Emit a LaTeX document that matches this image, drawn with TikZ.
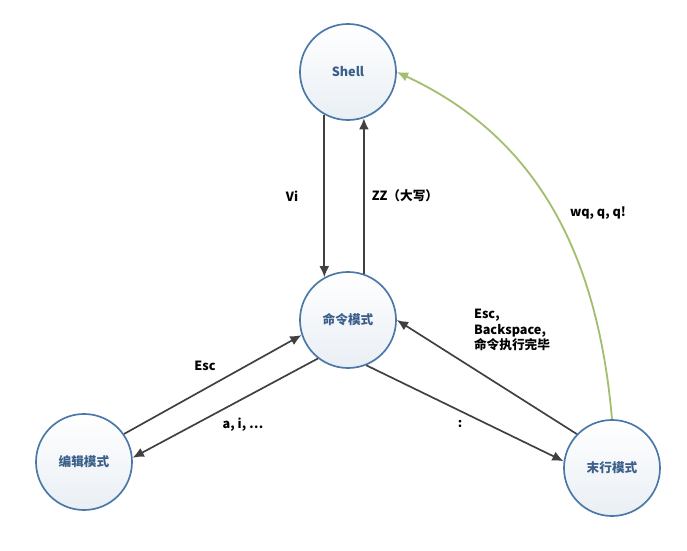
\documentclass[tikz,border=0pt]{standalone}
\usepackage{fontspec}
\setmainfont{Noto Sans CJK SC}
\usetikzlibrary{arrows.meta}
\definecolor{ringblue}{HTML}{4A78A8}
\definecolor{textblue}{HTML}{3A5F8A}
\definecolor{linegray}{HTML}{404040}
\definecolor{leafgreen}{HTML}{A3BE6E}
\tikzset{
	state/.style = {draw=ringblue, line width=1.2pt, circle, minimum size=2.4cm,
		top color=white, bottom color=ringblue!12, font=\bfseries\small, text=textblue},
	flow/.style  = {-{Latex[length=8pt,width=7pt]}, draw=linegray, line width=1.2pt},
	lbl/.style   = {font=\bfseries\small, align=center}
}

\begin{document}
\begin{tikzpicture}[x=0.025cm, y=-0.025cm]
	\useasboundingbox (0,0) rectangle (687,551);
	\node at (348,72)  [state] (shell) {Shell};
	\node at (348,320) [state] (cmd)   {命令模式};
	\node at (84,462)  [state] (edit)  {编辑模式};
	\node at (612,468) [state] (last)  {末行模式};

	\draw[flow] (shell.241) -- (cmd.119);
	\draw[flow] (cmd.71) -- (shell.289);
	\draw[flow] (edit.35) -- (cmd.198);
	\draw[flow] (cmd.232) -- (edit.5);
	\draw[flow] (cmd.292) -- (last.172);
	\draw[flow] (last.136) -- (cmd.0);
	\draw[-{Latex[length=8pt,width=7pt]}, draw=leafgreen, line width=1.3pt] (last.north) to[out=95, in=-25] (shell.east);

	\node at (292,196) [lbl] (vi) {Vi};
	\node at (405,196) [lbl] (zz) {ZZ（大写）};
	\node at (205,366) [lbl] (esc) {Esc};
	\node at (243,425) [lbl] (ai) {a, i, …};
	\node at (460,424) [lbl] (colon) {:};
	\node at (512,330) [lbl, align=left] (back) {Esc,\\Backspace,\\命令执行完毕};
	\node at (598,213) [lbl] (wq) {wq, q, q!};
\end{tikzpicture}
\end{document}
